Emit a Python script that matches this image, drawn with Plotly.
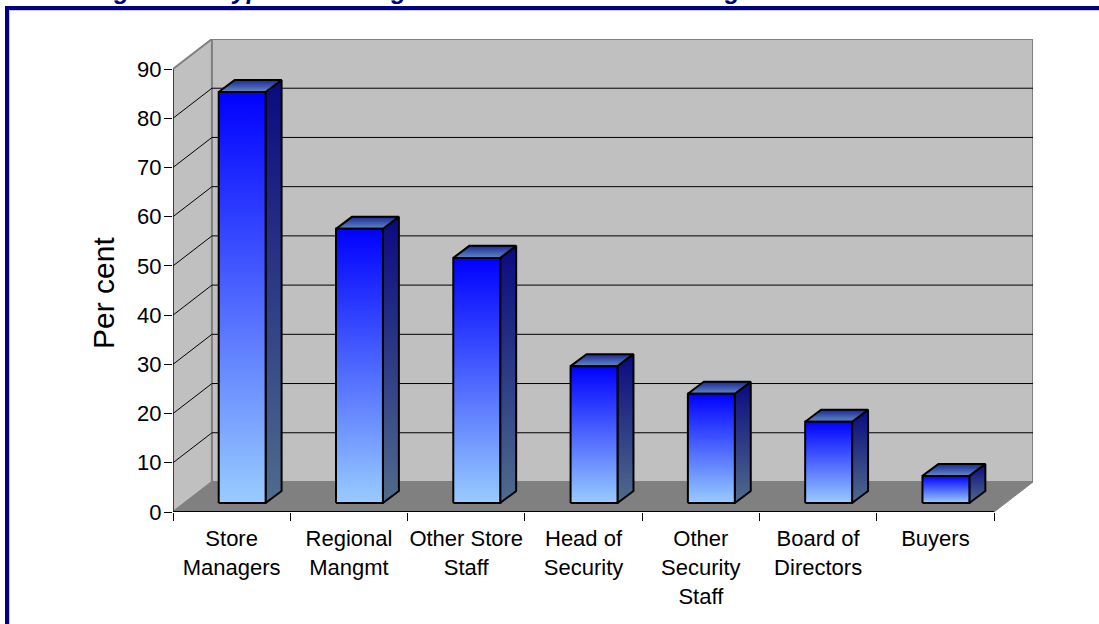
import plotly.graph_objects as go

categories = ["Store<br>Managers", "Regional<br>Mangmt", "Other Store<br>Staff", "Head of<br>Security",
              "Other<br>Security<br>Staff", "Board of<br>Directors", "Buyers"]
values = [83.5, 55.7, 49.8, 27.8, 22.2, 16.5, 5.5]
y_ticks = [0, 10, 20, 30, 40, 50, 60, 70, 80, 90]
title_text = "Figure 10: Types of Manager Accountable for Shrinkage"
y_title = "Per cent"

# oblique projection of the "depth" direction, in data units
DX, DY = 0.332, 6.1
N = len(categories)
YMAX = 90
BAR_W = 0.4
FONT = "Liberation Sans, Arial, sans-serif"

# page geometry (pixels) for the plot area
L, R, T, B = 173, 1033, 39, 512
W, H = 1099, 624
px = lambda p: (p - L) / (R - L)
py = lambda p: (B - p) / (B - T)

fig = go.Figure()


def poly(xs, ys, fill=None, grad=None, line="black", width=2):
    kw = dict(x=xs + xs[:1], y=ys + ys[:1], mode="lines", fill="toself", hoverinfo="skip",
              showlegend=False, cliponaxis=False, line=dict(color=line, width=width))
    if grad:
        kw["fillgradient"] = dict(type="vertical", colorscale=[[0, grad[0]], [1, grad[1]]])
    else:
        kw["fillcolor"] = fill
    fig.add_trace(go.Scatter(**kw))


def seg(xs, ys, color="black", width=1):
    fig.add_trace(go.Scatter(x=xs, y=ys, mode="lines", hoverinfo="skip", showlegend=False,
                             cliponaxis=False, line=dict(color=color, width=width)))


# walls and floor
poly([0, DX, DX, 0], [0, DY, YMAX + DY, YMAX], fill="#C0C0C0", line="#808080", width=2)
poly([DX, N + DX, N + DX, DX], [DY, DY, YMAX + DY, YMAX + DY], fill="#C0C0C0", line="#808080", width=2)
poly([0, N, N + DX, DX], [0, 0, DY, DY], fill="#808080", line="#808080", width=1)

# gridlines
for v in y_ticks[1:-1]:
    seg([0, DX, N + DX], [v, v + DY, v + DY], color="#000000", width=1)

# front axis lines
seg([0, 0], [0, YMAX])
seg([0, N], [0, 0], width=2)

# bars
for i, v in enumerate(values):
    x0 = i + 0.5 + 0.27 * DX - BAR_W / 2
    x1 = x0 + BAR_W
    y0 = 0.3 * DY
    y1 = y0 + v
    ddx, ddy = 0.41 * DX, 0.4 * DY
    poly([x1, x1 + ddx, x1 + ddx, x1], [y0, y0 + ddy, y1 + ddy, y1], grad=("#506C8C", "#0A0A80"))
    poly([x0, x1, x1 + ddx, x0 + ddx], [y1, y1, y1 + ddy, y1 + ddy], grad=("#6488C4", "#1A2A98"))
    poly([x0, x1, x1, x0], [y0, y0, y1, y1], grad=("#99CCFF", "#0000FF"))

navy = "#000080"
shapes = [
    dict(type="rect", xref="paper", yref="paper", x0=px(9), x1=px(W), y0=py(10), y1=py(11),
         fillcolor="#C8C8D8", line_width=0, layer="below"),
    dict(type="rect", xref="paper", yref="paper", x0=px(9), x1=px(10), y0=py(10), y1=py(H),
         fillcolor="#C8C8D8", line_width=0, layer="below"),
    dict(type="rect", xref="paper", yref="paper", x0=px(5), x1=px(W), y0=py(6), y1=py(10),
         fillcolor=navy, line_width=0, layer="above"),
    dict(type="rect", xref="paper", yref="paper", x0=px(5), x1=px(9), y0=py(6), y1=py(H),
         fillcolor=navy, line_width=0, layer="above"),
]

fig.update_layout(
    width=W, height=H, autosize=False,
    margin=dict(l=L, r=W - R, t=T, b=H - B, pad=0),
    paper_bgcolor="white", plot_bgcolor="white",
    font=dict(family=FONT, size=22, color="black"),
    shapes=shapes,
    annotations=[
        dict(text=f"<b><i>{title_text}</i></b>", xref="paper", yref="paper", x=px(90), y=py(6),
             xanchor="left", yanchor="bottom", showarrow=False,
             font=dict(size=25, color=navy, family=FONT)),
        dict(text=y_title, xref="paper", yref="paper", x=px(103), y=py(293), textangle=-90,
             xanchor="center", yanchor="middle", showarrow=False,
             font=dict(size=30, color="black", family=FONT)),
    ],
    xaxis=dict(range=[0, N + DX], showgrid=False, zeroline=False, showline=False,
               tickmode="array", tickvals=[i + 0.5 for i in range(N)], ticktext=categories,
               ticks="outside", ticklen=0, tickcolor="rgba(0,0,0,0)", ticklabelstandoff=7,
               tickfont=dict(size=22),
               minor=dict(tickmode="array", tickvals=list(range(N + 1)), ticks="outside",
                          ticklen=8, tickcolor="black", tickwidth=1, showgrid=False)),
    yaxis=dict(range=[0, YMAX + DY], showgrid=False, zeroline=False, showline=False,
               tickmode="array", tickvals=y_ticks, ticks="outside", ticklen=8, tickcolor="black",
               tickwidth=1, tickfont=dict(size=22), ticklabelstandoff=-2),
)

fig.write_html("out.html", config={"displayModeBar": False},
               post_script="document.body.style.margin='0';document.body.style.overflow='hidden';")
